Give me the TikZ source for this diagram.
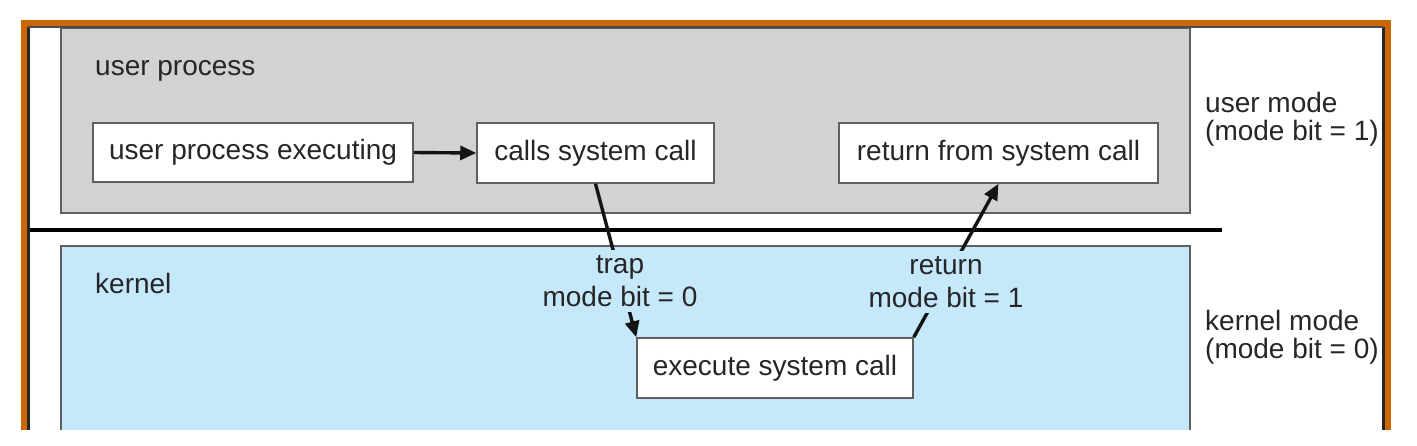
\documentclass[tikz,border=0pt]{standalone}
\usepackage{fontspec}
\setmainfont{Liberation Sans}
\usetikzlibrary{arrows.meta}
\definecolor{frameorange}{RGB}{204,102,0}
\definecolor{usergray}{RGB}{209,210,212}
\definecolor{kernelblue}{RGB}{197,232,250}
\definecolor{boxline}{RGB}{95,95,95}
\definecolor{ink}{RGB}{38,38,40}
\begin{document}
\begin{tikzpicture}[x=1pt,y=-1pt,
  every node/.style={font=\fontsize{28}{33}\selectfont, text=ink},
  region/.style={draw=boxline, line width=1.5pt},
  stepbox/.style={draw=boxline, fill=white, line width=1.5pt, inner sep=0pt, text height=20pt, text depth=6pt},
  conn/.style={draw=black!92, line width=3.4pt, -{Triangle[length=16pt,width=14pt]}},
  lbl/.style={fill=kernelblue, align=center, inner sep=5pt},
  side/.style={anchor=west, align=left, inner sep=0pt, font=\fontsize{28}{28}\selectfont},
  title/.style={anchor=base west, inner sep=0pt}]
\useasboundingbox (0,0) rectangle (1417,445);
\fill[white] (0,0) rectangle (1417,445);
\begin{scope}
\clip (0,0) rectangle (1417,429);
% regions
\draw[region, fill=usergray] (61,28) rectangle (1190,213);
\draw[region, fill=kernelblue] (61,246) rectangle (1190,470);
\draw[black, line width=3.5pt] (28,230) -- (1222,230);
% frame
\draw[frameorange, line width=6.5pt] (24.25,470) -- (24.25,23.25) -- (1388,23.25) -- (1388,470);
\draw[black!85, line width=2.5pt] (28.5,470) -- (28.5,27);
\draw[black!85, line width=3pt] (1383,470) -- (1383,27);
\draw[black!70, line width=1.2pt] (27.5,27) -- (1384,27);
% titles
\node[title] (up) at (95,75) {user process};
\node[title] (kn) at (95,293) {kernel};
% boxes
\node[stepbox, minimum width=320pt, minimum height=59pt] (upe) at (253,152.5) {user process executing};
\node[stepbox, minimum width=237pt, minimum height=60pt] (csc) at (595.5,153) {calls system call};
\node[stepbox, minimum width=319pt, minimum height=60pt] (rfsc) at (998.5,153) {return from system call};
\node[stepbox, minimum width=276pt, minimum height=60pt] (esc) at (775,368) {execute system call};
% connectors
\draw[conn] (upe.east) -- (csc.west);
\draw[conn] (csc.south) -- (esc.north west);
\draw[conn] (esc.north east) -- (rfsc.south);
% connector labels
\node[lbl] (trap) at (620,281) {trap\\mode bit = 0};
\node[lbl] (ret) at (946,282) {return\\mode bit = 1};
% side labels
\node[side] (um) at (1205,119) {user mode\\(mode bit = 1)};
\node[side] (km) at (1205,337) {kernel mode\\(mode bit = 0)};
\end{scope}
\end{tikzpicture}
\end{document}
